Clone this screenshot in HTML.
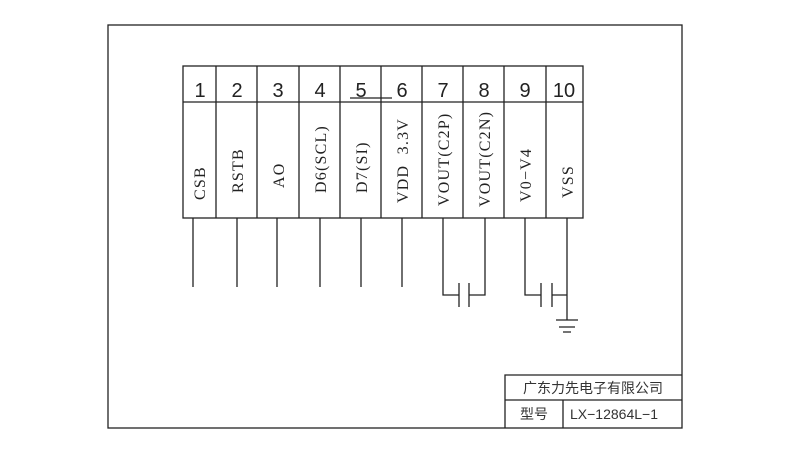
<!DOCTYPE html>
<html><head><meta charset="utf-8"><style>body{margin:0;background:#fff}svg{display:block}</style></head><body>
<svg width="800" height="450" viewBox="0 0 800 450" xmlns="http://www.w3.org/2000/svg">
<rect width="800" height="450" fill="#fff"/>
<g stroke="#222" stroke-width="1.3" fill="none">
<rect x="108" y="25" width="574" height="403"/>
<rect x="183" y="66" width="400" height="152"/>
<line x1="183" y1="102" x2="583" y2="102"/>
<path d="M216 66V218M257 66V218M299 66V218M340 66V218M381 66V218M422 66V218M463 66V218M504 66V218M546 66V218"/>
<line x1="350" y1="98" x2="392" y2="98"/>
<path d="M193 218V287M237 218V287M277 218V287M320 218V287M361 218V287M402 218V287"/>
<path d="M443 218V295H459M469 295H485V218M459 283V307M469 283V307"/>
<path d="M525 218V295H541M552 295H567V218M541 283V307M552 283V307M567 295V320"/>
<path d="M556 320H578M559 327H575M563 332H571"/>
<path d="M505 428V375H682M505 400H682M563 400V428"/>
</g>
<g font-family="Liberation Sans, sans-serif" font-size="20" fill="#222" text-anchor="middle" font-weight="300">
<text x="200" y="97">1</text><text x="237" y="97">2</text><text x="278" y="97">3</text><text x="320" y="97">4</text><text x="361" y="97">5</text><text x="402" y="97">6</text><text x="443" y="97">7</text><text x="484" y="97">8</text><text x="525" y="97">9</text><text x="564" y="97">10</text>
</g>
<g font-family="Liberation Serif, serif" font-size="16" fill="#222" letter-spacing="1.2">
<text transform="translate(205,200) rotate(-90)">CSB</text>
<text transform="translate(243,193) rotate(-90)">RSTB</text>
<text transform="translate(284,188) rotate(-90)">AO</text>
<text transform="translate(326,193) rotate(-90)">D6(SCL)</text>
<text transform="translate(367,193) rotate(-90)">D7(SI)</text>
<text transform="translate(408,203) rotate(-90)" xml:space="preserve">VDD  3.3V</text>
<text transform="translate(449,206) rotate(-90)">VOUT(C2P)</text>
<text transform="translate(490,207) rotate(-90)">VOUT(C2N)</text>
<text transform="translate(531,202) rotate(-90)">V0−V4</text>
<text transform="translate(573,198) rotate(-90)">VSS</text>
</g>
<g font-family="Liberation Sans, Noto Sans CJK SC, sans-serif" font-size="14" fill="#333">
<text x="593" y="393" text-anchor="middle">广东力先电子有限公司</text>
<text x="534" y="419" text-anchor="middle">型号</text>
<text x="570" y="419">LX−12864L−1</text>
</g>
</svg>
</body></html>
